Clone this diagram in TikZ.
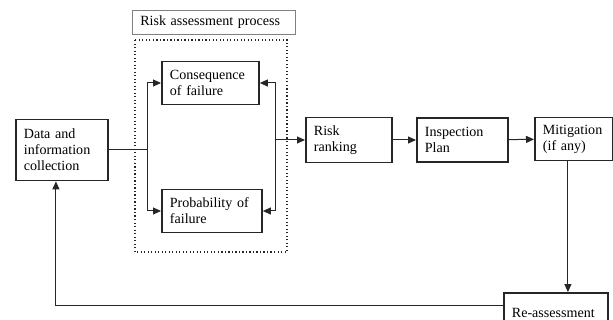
\documentclass[tikz,border=0pt]{standalone}
\usepackage{fontspec}
\setmainfont{Liberation Serif}
\usepackage{tikz}
\usetikzlibrary{arrows}
\usetikzlibrary{arrows.meta}
\usetikzlibrary{calc}

\tikzset{
	stagebox/.style={draw=black!85, line width=.55mm, anchor=west, align=left,
		inner xsep=.24cm, inner ysep=0pt, font=\fontsize{12}{13.6}\selectfont},
	flow/.style={->, >={Triangle[length=2.4mm, width=2.1mm]}, black!85, line width=.3mm},
}

\begin{document}
\begin{tikzpicture}[x=.03cm, y=-.03cm]

	\useasboundingbox (0, 0) rectangle (613, 320);

	% Risk assessment process frame
	\draw[black!85, line width=.35mm, dotted] (135, 40) rectangle (287, 252);
	\node[stagebox, draw=black!50, line width=.15mm, text width=4.41cm, minimum height=.72cm] (label) at (132, 22) {Risk assessment process};

	% Boxes
	\node[stagebox, text width=2.28cm, minimum height=1.83cm] (data)  at (15, 150)  {Data and\\information\\collection};
	\node[stagebox, text width=2.43cm, minimum height=1.29cm] (cons)  at (161, 83)  {Consequence\\of failure};
	\node[stagebox, text width=2.52cm, minimum height=1.29cm] (prob)  at (161, 211) {Probability of\\failure};
	\node[stagebox, text width=2.10cm, minimum height=1.35cm] (risk)  at (305, 140) {Risk\\ranking};
	\node[stagebox, text width=2.25cm, minimum height=1.32cm] (insp)  at (416, 140) {Inspection\\Plan};
	\node[stagebox, text width=1.86cm, minimum height=1.29cm] (mitig) at (534, 139) {Mitigation\\(if any)};
	\node[stagebox, text width=2.64cm, minimum height=1.20cm] (reas)  at (503, 313) {Re-assessment};

	% Branch points
	\coordinate (split) at (147, 150);
	\coordinate (merge) at (275, 140);

	% Arrows
	\draw[black!85, line width=.3mm] (data.east) -- (split);
	\draw[flow] (split) |- (cons.west);
	\draw[flow] (split) |- (prob.west);
	\draw[flow] (merge) |- (cons.east);
	\draw[flow] (merge) |- (prob.east);
	\draw[flow] (merge) -- (risk.west);
	\draw[flow] (risk) -- (insp);
	\draw[flow] (insp) -- (mitig);
	\draw[flow] ([xshift=-.18cm]mitig.south) -- ([xshift=-.18cm]mitig.south |- reas.north);
	\draw[flow] ([yshift=.21cm]reas.west) -| ([xshift=-.18cm]data.south);

\end{tikzpicture}
\end{document}
